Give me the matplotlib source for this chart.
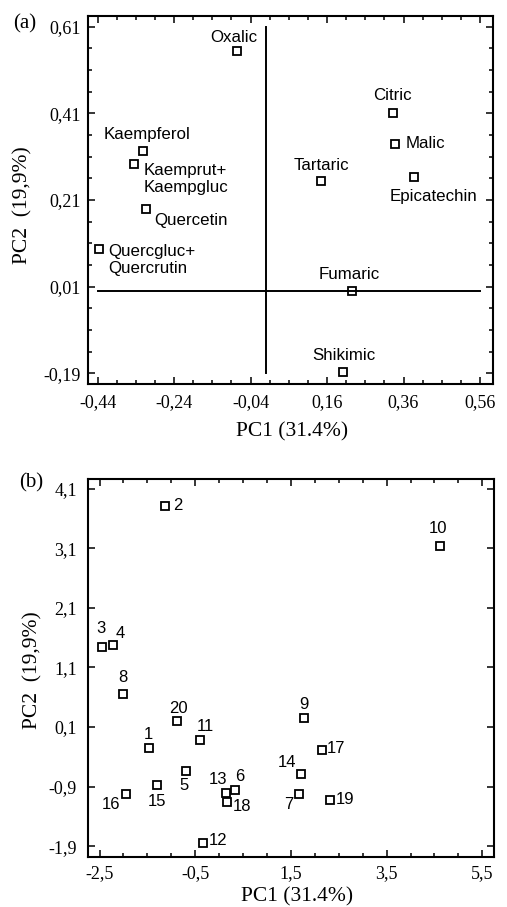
import numpy as np
import matplotlib
matplotlib.use("Agg")
import matplotlib.pyplot as plt
from matplotlib.ticker import FixedLocator, FuncFormatter

# (a) loadings
var_names = ['Oxalic', 'Citric', 'Malic', 'Tartaric', 'Epicatechin', 'Fumaric',
             'Shikimic', 'Kaempferol', 'Kaemprut+\nKaempgluc', 'Quercetin',
             'Quercgluc+\nQuercrutin']
load_pc1 = [-0.076, 0.332, 0.339, 0.145, 0.387, 0.226, 0.203, -0.322, -0.345, -0.314, -0.437]
load_pc2 = [0.554, 0.412, 0.340, 0.254, 0.263, 0.000, -0.187, 0.323, 0.293, 0.189, 0.097]

# (b) scores, samples 1..20
sample_ids = ['1', '2', '3', '4', '5', '6', '7', '8', '9', '10',
              '11', '12', '13', '14', '15', '16', '17', '18', '19', '20']
score_pc1 = [-1.46, -1.14, -2.45, -2.22, -0.69, 0.33, 1.67, -2.01, 1.78, 4.61,
             -0.40, -0.34, 0.15, 1.71, -1.31, -1.94, 2.14, 0.17, 2.32, -0.88]
score_pc2 = [-0.25, 3.81, 1.45, 1.48, -0.64, -0.95, -1.02, 0.65, 0.26, 3.14,
             -0.11, -1.84, -1.00, -0.69, -0.87, -1.02, -0.29, -1.15, -1.13, 0.20]

# label placement (pixels right / down from the marker, alignment)
a_offsets = [(-3, -14, 'center'), (0, -17, 'center'), (10, 0, 'left'), (0, -15, 'center'),
             (20, 19, 'center'), (-3, -16, 'center'), (0, -16, 'center'), (4, -17, 'center'),
             (10, 15, 'left'), (9, 11, 'left'), (10, 11, 'left')]
b_offsets = [(-1, -13, 'center'), (8, 0, 'left'), (-1, -18, 'center'), (7, -11, 'center'),
             (-2, 14, 'center'), (5, -13, 'center'), (-10, 11, 'center'), (0, -17, 'center'),
             (0, -13, 'center'), (-2, -17, 'center'), (5, -13, 'center'), (6, -2, 'left'),
             (-8, -13, 'center'), (-14, -12, 'center'), (0, 17, 'center'), (-15, 11, 'center'),
             (5, -2, 'left'), (15, 5, 'center'), (6, -1, 'left'), (1, -13, 'center')]

W, H = 507, 907
fig = plt.figure(figsize=(W / 100, H / 100), dpi=100)
serif = 'Liberation Serif'
sans = 'Liberation Sans'
px = 0.72  # points per pixel at 100 dpi


def style_axes(ax, fmt):
    for s in ax.spines.values():
        s.set_linewidth(1.5)
    ax.tick_params(which='both', direction='in', top=True, right=True, width=1.1,
                   labelsize=13, pad=6)
    ax.tick_params(which='major', length=4.8)
    ax.tick_params(which='minor', length=3.0)
    ax.xaxis.set_major_formatter(FuncFormatter(lambda v, p: fmt.format(v).replace('.', ',')))
    ax.yaxis.set_major_formatter(FuncFormatter(lambda v, p: fmt.format(v).replace('.', ',')))
    for lab in ax.get_xticklabels() + ax.get_yticklabels():
        lab.set_fontfamily(serif)


def label_points(ax, names, xs, ys, offsets, size):
    for n, x, y, (dx, dy, ha) in zip(names, xs, ys, offsets):
        ax.annotate(n, (x, y), xytext=(dx * px, -dy * px), textcoords='offset points',
                    ha=ha, va='center', fontsize=size, fontfamily=sans,
                    multialignment='left', linespacing=1.1)


# ---- panel (a)
axa = fig.add_axes([88 / W, 1 - 384 / H, 405 / W, 368 / H])
axa.set_xlim(-0.465, 0.594)
axa.set_ylim(-0.215, 0.635)
axa.plot([0, 0], [-0.19, 0.61], color='black', lw=1.4)
axa.plot([-0.44, 0.56], [0, 0], color='black', lw=1.4)
axa.plot(load_pc1, load_pc2, 's', ms=5.5, mfc='none', mec='black', mew=1.3)
axa.xaxis.set_major_locator(FixedLocator(np.round(np.arange(-0.44, 0.57, 0.2), 2)))
axa.xaxis.set_minor_locator(FixedLocator(np.round(np.arange(-0.44, 0.57, 0.05), 2)))
axa.yaxis.set_major_locator(FixedLocator(np.round(np.arange(-0.19, 0.62, 0.2), 2)))
axa.yaxis.set_minor_locator(FixedLocator(np.round(np.arange(-0.19, 0.62, 0.05), 2)))
style_axes(axa, '{:.2f}')
axa.tick_params(axis='y', pad=5)
axa.tick_params(axis='x', pad=7)
label_points(axa, var_names, load_pc1, load_pc2, a_offsets, 12.2)

fig.text(292 / W, 1 - 432 / H, 'PC1 (31.4%)', ha='center', va='center',
         fontsize=15.5, fontfamily=serif)
fig.text(23 / W, 1 - 205 / H, 'PC2  (19,9%)', ha='center', va='center', rotation=90,
         fontsize=15.5, fontfamily=serif)
fig.text(25 / W, 1 - 24 / H, '(a)', ha='center', va='center', fontsize=15, fontfamily=serif)

# ---- panel (b)
axb = fig.add_axes([88 / W, 1 - 857 / H, 406 / W, 378.5 / H])
axb.set_xlim(-2.742, 5.744)
axb.set_ylim(-2.08, 4.27)
axb.plot(score_pc1, score_pc2, 's', ms=5.5, mfc='none', mec='black', mew=1.3)
axb.xaxis.set_major_locator(FixedLocator(np.arange(-2.5, 5.6, 2.0)))
axb.xaxis.set_minor_locator(FixedLocator(np.arange(-2.5, 5.6, 0.5)))
axb.yaxis.set_major_locator(FixedLocator(np.round(np.arange(-1.9, 4.2, 1.0), 1)))
style_axes(axb, '{:.1f}')
axb.tick_params(axis='y', pad=8)
axb.tick_params(axis='x', pad=6)
label_points(axb, sample_ids, score_pc1, score_pc2, b_offsets, 12)

fig.text(297 / W, 1 - 897 / H, 'PC1 (31.4%)', ha='center', va='center',
         fontsize=15.5, fontfamily=serif)
fig.text(33 / W, 1 - 670 / H, 'PC2  (19,9%)', ha='center', va='center', rotation=90,
         fontsize=15.5, fontfamily=serif)
fig.text(31 / W, 1 - 483 / H, '(b)', ha='center', va='center', fontsize=15, fontfamily=serif)

fig.savefig('out.png', dpi=100)
